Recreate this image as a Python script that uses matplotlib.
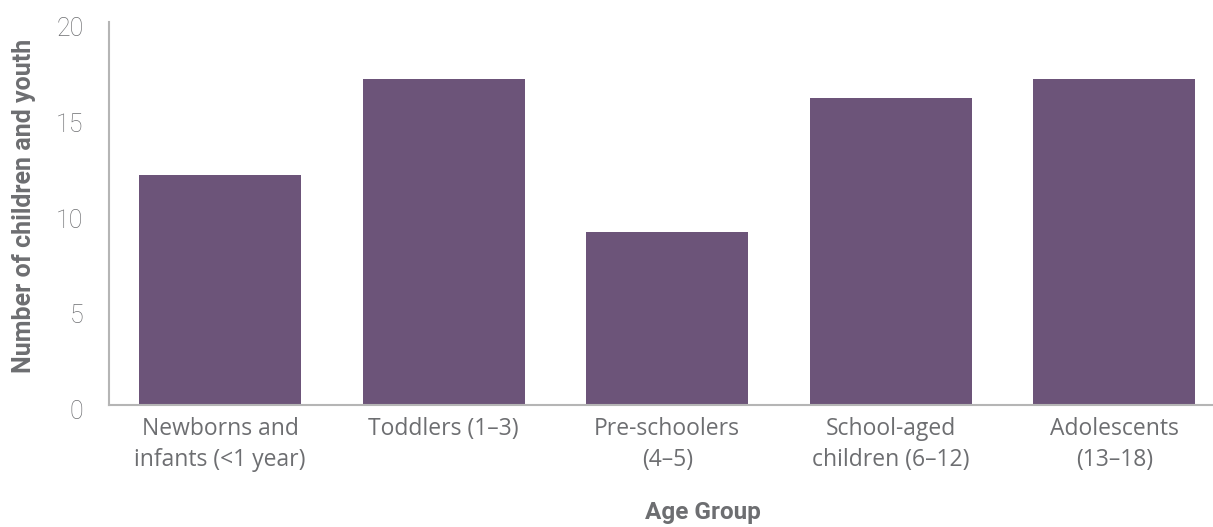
import matplotlib
matplotlib.use("Agg")
import matplotlib.pyplot as plt
import matplotlib.transforms as mtransforms

categories = ["Newborns and\ninfants (<1 year)", "Toddlers (1–3)", "Pre-schoolers\n(4–5)",
              "School-aged\nchildren (6–12)", "Adolescents\n(13–18)"]
values = [12, 17, 9, 16, 17]
yticks = [0, 5, 10, 15, 20]

bar_color = "#6c5479"
text_color = "#6d6e71"
spine_color = "#b5b5b5"

fig = plt.figure(figsize=(12.13, 5.27), dpi=100)
W, H = 1213, 527
left, right, bottom, top = 108.5, 1226, 404.7, 21.5
ax = fig.add_axes([left / W, (H - bottom) / H, (right - left) / W, (bottom - top) / H])

x = list(range(len(categories)))
ax.bar(x, values, width=0.725, color=bar_color, zorder=2)
ax.set_xlim(-0.5, len(categories) - 0.5)
ax.set_ylim(0, 20)
ax.set_yticks(yticks)
ax.set_xticks(x)
ax.set_xticklabels(categories, fontsize=16.5, color=text_color, family="Open Sans",
                   linespacing=1.38)
ax.set_yticklabels([str(v) for v in yticks], fontsize=18, color="#6d6e71", family="Roboto",
                   fontweight="light")
ax.tick_params(axis="both", length=0)
ax.tick_params(axis="y", pad=18)
ax.tick_params(axis="x", pad=9)

off = mtransforms.ScaledTranslation(0, -5 / 100, fig.dpi_scale_trans)
for lab in ax.get_yticklabels():
    lab.set_transform(lab.get_transform() + off)

for s in ["top", "right"]:
    ax.spines[s].set_visible(False)
for s in ["left", "bottom"]:
    ax.spines[s].set_color(spine_color)
    ax.spines[s].set_linewidth(1.5)

fig.text(24 / W, 1 - 206 / H, "Number of children and youth", rotation=90, ha="center", va="center",
         fontsize=18, fontweight="bold", color=text_color, family="Roboto")
fig.text(703 / W, 1 - 513 / H, "Age Group", ha="center", va="center",
         fontsize=17.5, fontweight="bold", color=text_color, family="Roboto")

fig.savefig("out.png", dpi=100)
